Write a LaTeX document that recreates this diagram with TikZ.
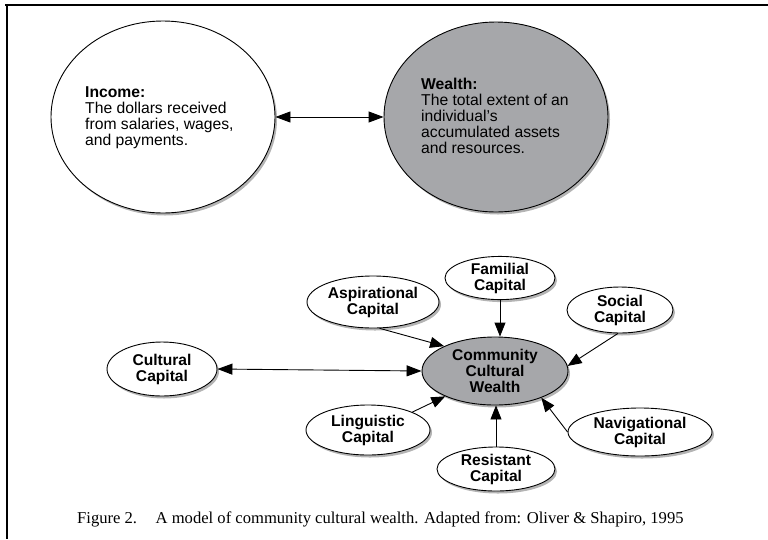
\documentclass[tikz,border=0pt]{standalone}
\usepackage{fontspec}
\setmainfont{Liberation Sans}
\newfontfamily\capfont{Liberation Serif}
\usetikzlibrary{shapes.geometric,arrows.meta,shadows}
\definecolor{wgray}{RGB}{166,167,170}
\definecolor{sgray}{RGB}{180,180,180}
\begin{document}
\begin{tikzpicture}[x=1pt,y=-1pt,
  oval/.style={ellipse, draw=black, line width=0.9pt, fill=white, inner sep=0pt,
    drop shadow={shadow xshift=2pt,shadow yshift=-2.5pt,opacity=1,fill=sgray}},
  small/.style={oval, font=\fontsize{15.6}{16}\selectfont\bfseries, align=center},
  bigtext/.style={anchor=north west, inner sep=0pt, align=left, font=\fontsize{15.7}{16}\selectfont},
  conn/.style={line width=0.9pt, -{Triangle[length=14pt,width=11pt]}},
  bothc/.style={line width=0.9pt, {Triangle[length=15pt,width=11pt]}-{Triangle[length=15pt,width=11pt]}},
]
\useasboundingbox (0,0) rectangle (768,539);
\draw[line width=2pt] (5,5) -- (768,5);
\draw[line width=2pt] (7,4) -- (7,539);

% top ellipses
\node[oval, minimum width=224pt, minimum height=192pt] (inc) at (163,117) {};
\node[oval, fill=wgray, minimum width=224pt, minimum height=190pt] (wea) at (496,117) {};
\node[bigtext] (inctext) at (85,86) {\textbf{Income:}\\The dollars received\\from salaries, wages,\\and payments.};
\node[bigtext] (weatext) at (421,78) {\textbf{Wealth:}\\The total extent of an\\individual's\\accumulated assets\\and resources.};
\draw[bothc] (inc.east) -- (wea.west);

% lower model
\node[small, fill=wgray, minimum width=146pt, minimum height=68pt] (ccw) at (495,371) {Community\\Cultural\\Wealth};
\node[small, minimum width=110pt, minimum height=42pt] (fam) at (500,278) {Familial\\Capital};
\node[small, minimum width=106pt, minimum height=46pt] (soc) at (620,310) {Social\\Capital};
\node[small, minimum width=144pt, minimum height=48pt] (nav) at (640,432) {Navigational\\Capital};
\node[small, minimum width=118pt, minimum height=44pt] (res) at (496,469) {Resistant\\Capital};
\node[small, minimum width=132pt, minimum height=52pt] (asp) at (373,302) {Aspirational\\Capital};
\node[small, minimum width=110pt, minimum height=54pt] (cul) at (162,369) {Cultural\\Capital};
\node[small, minimum width=124pt, minimum height=50pt] (lin) at (368,430) {Linguistic\\Capital};

\draw[bothc] (cul.east) -- (ccw.west);
\draw[conn] (asp.284) -- (ccw.154);
\draw[conn] (fam.south) -- (fam.south |- ccw.north);
\draw[conn] (soc.265) -- (ccw.4);
\draw[conn] (nav.west) -- (ccw.330);
\draw[conn] (res.north) -- (res.north |- ccw.south);
\draw[conn] (lin.22) -- (ccw.207);

\node[anchor=base west, inner sep=0pt, font=\capfont\fontsize{16.6}{18}\selectfont] (cap) at (77,523)
  {Figure 2.\hspace{13pt} A model of community cultural wealth. Adapted from: Oliver \& Shapiro, 1995};
\end{tikzpicture}
\end{document}
